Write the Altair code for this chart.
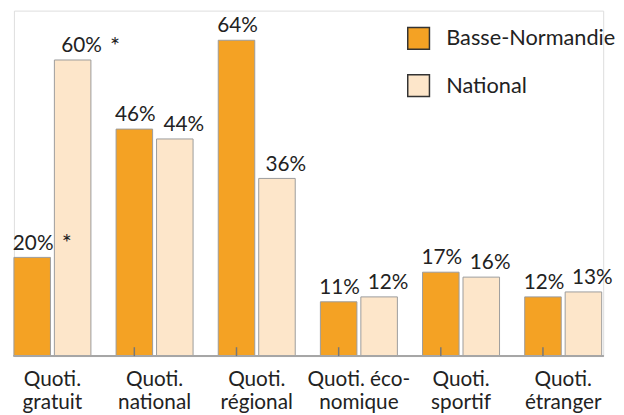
import altair as alt
import pandas as pd

categories = ["Quoti.\ngratuit", "Quoti.\nnational", "Quoti.\nrégional",
              "Quoti. éco-\nnomique", "Quoti.\nsportif", "Quoti.\nétranger"]
series = ["Basse-Normandie", "National"]
bn_values = [20, 46, 64, 11, 17, 12]
nat_values = [60, 44, 36, 12, 16, 13]
bn_marks = ["*", "", "", "", "", ""]
nat_marks = ["*", "", "", "", "", ""]

bar_colors = ["#F4A224", "#FDE6CA"]

rows = []
for i, c in enumerate(categories):
    rows.append({"category": c, "series": series[0], "value": bn_values[i],
                 "label": f"{bn_values[i]}%", "star": bn_marks[i], "idx": i})
    rows.append({"category": c, "series": series[1], "value": nat_values[i],
                 "label": f"{nat_values[i]}%", "star": nat_marks[i], "idx": i})
df = pd.DataFrame(rows)

FONT = "Lato"
W, H = 597, 350

x_enc = alt.X("category:N", sort=categories,
              scale=alt.Scale(range=[-12.75, 608.25], paddingInner=0, paddingOuter=0),
              axis=alt.Axis(title=None, domain=False, ticks=False, labelAngle=0,
                            labelExpr="split(datum.label, '\\n')",
                            labelFont=FONT, labelFontSize=21, labelColor="#222",
                            labelPadding=13, labelLineHeight=23))
xoff = alt.XOffset("series:N", sort=series,
                   scale=alt.Scale(paddingInner=0.0976, paddingOuter=0.311))
y_enc = alt.Y("value:Q", scale=alt.Scale(domain=[0, 70], nice=False), axis=None)

base = alt.Chart(df)

bars = base.mark_bar(stroke="#9b9b9b", strokeWidth=1).encode(
    x=x_enc, xOffset=xoff, y=y_enc,
    color=alt.Color("series:N", sort=series,
                    scale=alt.Scale(domain=series, range=bar_colors),
                    legend=alt.Legend(title=None, orient="none", legendX=398, legendY=16,
                                      symbolType="square", symbolSize=484,
                                      symbolStrokeColor="#333",
                                      symbolStrokeWidth=1.5, labelFont=FONT,
                                      labelFontSize=22, labelColor="#222",
                                      labelLimit=0,
                                      labelOffset=16, rowPadding=20, padding=0)),
)

def label_layer(s, dx):
    return base.transform_filter(alt.datum.series == s).mark_text(
        font=FONT, fontSize=21, color="#222", baseline="alphabetic", dy=-8, dx=dx
    ).encode(x=x_enc, xOffset=xoff, y=y_enc, text="label:N")

def star_layer(s, dx):
    return base.transform_filter((alt.datum.series == s) & (alt.datum.star != "")).mark_text(
        font=FONT, fontSize=24, color="#222", baseline="alphabetic", dy=-6, dx=dx
    ).encode(x=x_enc, xOffset=xoff, y=y_enc, text="star:N")

baseline = base.mark_rule(color="#a6a6a6", strokeWidth=2).encode(
    x=alt.value(0), x2=alt.value(W), y=alt.value(H)
)

ticks = base.transform_filter(
    (alt.datum.series == series[0]) & (alt.datum.idx > 0)
).mark_rule(color="#777", strokeWidth=1.5, xOffset=-31.25).encode(
    x=x_enc, xOffset=xoff,
    y=alt.value(H), y2=alt.value(H - 9),
)

chart = alt.layer(
    bars, baseline, ticks,
    label_layer(series[0], 1), label_layer(series[1], 9),
    star_layer(series[0], 35), star_layer(series[1], 43),
).properties(
    width=W, height=H,
    autosize=alt.AutoSizeParams(type="none"),
    padding={"left": 6, "top": 0, "right": 13, "bottom": 57},
).configure_view(stroke=None).configure(background="white")

chart.save("out.html", embed_options={"renderer": "svg", "actions": False})
